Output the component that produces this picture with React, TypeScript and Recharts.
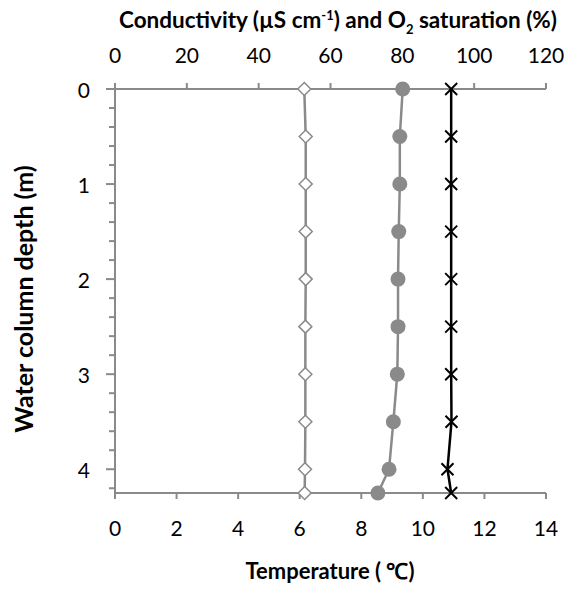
import React from "react";
import { ScatterChart, Scatter, XAxis, YAxis } from "recharts";

// depth profile, values
const depths = [0, 0.5, 1, 1.5, 2, 2.5, 3, 3.5, 4, 4.25];
const conductivity = [52.7, 53.1, 53.1, 53.1, 53.1, 53.0, 53.0, 53.0, 52.9, 52.8];
const o2Saturation = [80.1, 79.3, 79.3, 79.0, 78.8, 78.8, 78.6, 77.5, 76.3, 73.2];
const temperature = [10.92, 10.92, 10.92, 10.92, 10.92, 10.92, 10.92, 10.93, 10.8, 10.92];

const topTicks = [0, 20, 40, 60, 80, 100, 120];
const bottomTicks = [0, 2, 4, 6, 8, 10, 12, 14];
const depthTicks = [0, 0.2, 0.4, 0.6, 0.8, 1, 1.2, 1.4, 1.6, 1.8, 2, 2.2, 2.4, 2.6, 2.8, 3, 3.2, 3.4, 3.6, 3.8, 4, 4.2];
const depthLabels = [0, 1, 2, 3, 4];

const GRAY = "#8a8a8a";
const FONT = "Lato, 'Open Sans', sans-serif";

const condData = depths.map((d, i) => ({ depth: d, value: conductivity[i] }));
const o2Data = depths.map((d, i) => ({ depth: d, value: o2Saturation[i] }));
const tempData = depths.map((d, i) => ({ depth: d, value: temperature[i] }));

const Diamond = (props: any) => {
  const { cx, cy } = props;
  const s = 6.5;
  return (
    <path
      d={`M${cx},${cy - s}L${cx + s},${cy}L${cx},${cy + s}L${cx - s},${cy}Z`}
      fill="#fff"
      stroke={GRAY}
      strokeWidth={1.5}
    />
  );
};

const Dot = (props: any) => <circle cx={props.cx} cy={props.cy} r={7.5} fill={GRAY} />;

const Cross = (props: any) => {
  const { cx, cy } = props;
  const s = 6;
  return (
    <g stroke="#000" strokeWidth={2}>
      <line x1={cx - s} y1={cy - s} x2={cx + s} y2={cy + s} />
      <line x1={cx - s} y1={cy + s} x2={cx + s} y2={cy - s} />
    </g>
  );
};

const DepthTick = (props: any) => {
  const { x, y, payload } = props;
  const v = payload.value;
  const major = depthLabels.some((d) => Math.abs(d - v) < 1e-6);
  return (
    <g>
      <line x1={x - (major ? 9 : 6)} y1={y} x2={x} y2={y} stroke={GRAY} strokeWidth={2} />
      {major && (
        <text x={x - 25} y={y} textAnchor="end" dominantBaseline="central" fontSize={21} fontFamily={FONT} fill="#000">
          {v}
        </text>
      )}
    </g>
  );
};

export default function App() {
  return (
    <div style={{ position: "absolute", left: 0, top: 0, width: 569, height: 590, background: "#fff" }}>
      <ScatterChart width={569} height={590} margin={{ top: 0, right: 23, bottom: 0, left: 0 }}>
        <XAxis
          xAxisId="top"
          orientation="top"
          type="number"
          dataKey="value"
          domain={[0, 120]}
          ticks={topTicks}
          interval={0}
          height={89}
          tickSize={6}
          tickMargin={20}
          stroke={GRAY}
          strokeWidth={2}
          tick={{ fill: "#000", fontSize: 21, fontFamily: FONT }}
        />
        <XAxis
          xAxisId="bottom"
          orientation="bottom"
          type="number"
          dataKey="value"
          domain={[0, 14]}
          ticks={bottomTicks}
          interval={0}
          height={97}
          tickSize={6}
          tickMargin={22}
          stroke={GRAY}
          strokeWidth={2}
          tick={{ fill: "#000", fontSize: 21, fontFamily: FONT }}
        />
        <YAxis
          type="number"
          dataKey="depth"
          domain={[0, 4.25]}
          reversed
          ticks={depthTicks}
          interval={0}
          width={115}
          tickSize={0}
          tickMargin={0}
          tickLine={false}
          stroke={GRAY}
          strokeWidth={2}
          tick={<DepthTick />}
        />
        <Scatter
          name="Conductivity"
          data={condData}
          xAxisId="top"
          line={{ stroke: GRAY, strokeWidth: 2.5 }}
          shape={<Diamond />}
          isAnimationActive={false}
        />
        <Scatter
          name="O2 saturation"
          data={o2Data}
          xAxisId="top"
          line={{ stroke: GRAY, strokeWidth: 2.5 }}
          shape={<Dot />}
          isAnimationActive={false}
        />
        <Scatter
          name="Temperature"
          data={tempData}
          xAxisId="bottom"
          line={{ stroke: "#000", strokeWidth: 2.5 }}
          shape={<Cross />}
          isAnimationActive={false}
        />
      </ScatterChart>
      <div
        style={{
          position: "absolute",
          left: 338 - 300,
          width: 600,
          top: 6,
          textAlign: "center",
          fontFamily: FONT,
          fontWeight: 700,
          fontSize: 22.5,
          lineHeight: "28px",
          whiteSpace: "nowrap",
        }}
      >
        Conductivity (µS cm<sup style={{ fontSize: 13, lineHeight: 0 }}>-1</sup>) and O
        <sub style={{ fontSize: 13, lineHeight: 0 }}>2</sub> saturation (%)
      </div>
      <div
        style={{
          position: "absolute",
          left: 330 - 200,
          width: 400,
          top: 557,
          textAlign: "center",
          fontFamily: FONT,
          fontWeight: 700,
          fontSize: 22,
          lineHeight: "28px",
          whiteSpace: "nowrap",
        }}
      >
        Temperature ( ℃)
      </div>
      <div
        style={{
          position: "absolute",
          left: 23 - 200,
          top: 299 - 14,
          width: 400,
          textAlign: "center",
          transform: "rotate(-90deg)",
          fontFamily: FONT,
          fontWeight: 700,
          fontSize: 25,
          lineHeight: "28px",
          whiteSpace: "nowrap",
        }}
      >
        Water column depth (m)
      </div>
    </div>
  );
}
